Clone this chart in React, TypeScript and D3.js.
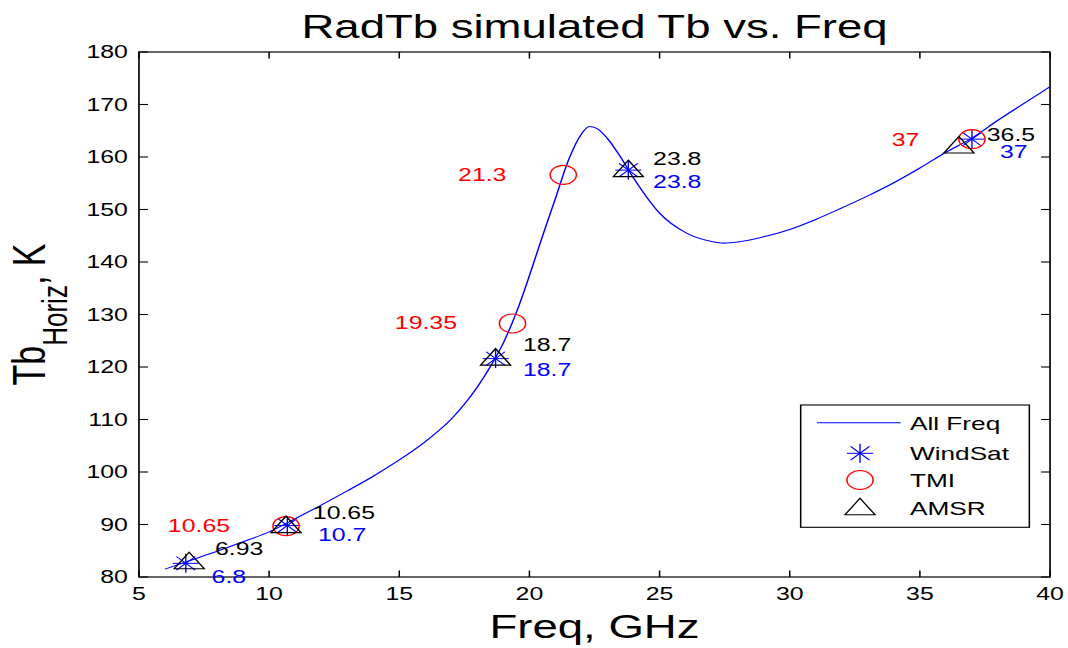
import * as d3 from "d3";

// horizontal stretch of the original figure
const S = 1.38;
const VW = 1068 / S;

const curveFreq = [6, 7, 8, 9, 10, 11, 12, 13, 14, 15, 16, 17, 17.5, 18, 18.5, 19, 19.5, 20, 20.5, 21, 21.5, 22, 22.3, 22.6, 23, 23.5, 24, 24.5, 25, 26, 27, 27.5, 28, 29, 30, 31, 32, 33, 34, 35, 36, 37, 38, 39, 40];
const curveTb = [81.5, 83.2, 84.9, 86.7, 88.6, 91.1, 93.7, 96.4, 99.2, 102.3, 105.8, 110.1, 112.9, 116.2, 120.1, 124.6, 130.4, 137.4, 144.9, 152.1, 159.4, 164.4, 165.8, 165.4, 163.5, 160, 156, 152.4, 149.3, 145.6, 143.9, 143.6, 143.8, 144.8, 146.2, 148.1, 150.3, 152.6, 155.1, 157.9, 160.9, 163.6, 167, 170.2, 173.4];

const windSatFreq = [6.8, 10.7, 18.7, 23.8, 37];
const windSatTb = [82.6, 89.8, 121.6, 157.5, 163.4];
const tmiFreq = [10.65, 19.35, 21.3, 37];
const tmiTb = [89.7, 128.3, 156.6, 163.4];
const amsrFreq = [6.93, 10.65, 18.7, 23.8, 36.5];
const amsrTb = [82.8, 89.7, 121.6, 157.5, 162.0];

const labelText = ["10.65", "6.93", "6.8", "10.65", "10.7", "19.35", "18.7", "18.7", "21.3", "23.8", "23.8", "37", "36.5", "37"];
const labelFreq = [6.11, 7.92, 7.79, 11.68, 11.88, 14.83, 19.75, 19.75, 17.26, 24.75, 24.75, 33.92, 37.57, 38.08];
const labelTb = [89.9, 85.5, 80.06, 92.2, 88.0, 128.4, 124.2, 119.6, 156.7, 159.75, 155.3, 163.4, 164.2, 161.0];
const labelColor = ["#ff0000", "#000", "#0000ff", "#000", "#0000ff", "#ff0000", "#000", "#0000ff", "#ff0000", "#000", "#0000ff", "#ff0000", "#000", "#0000ff"];

const xTicks = [5, 10, 15, 20, 25, 30, 35, 40];
const yTicks = [80, 90, 100, 110, 120, 130, 140, 150, 160, 170, 180];

const legendNames = ["All Freq", "WindSat", "TMI", "AMSR"];

const FONT = "'Liberation Sans', Arial, sans-serif";

function Star({ cx, cy }: { cx: number; cy: number }) {
  const r = 9.5;
  const d = r * 0.72;
  return (
    <g stroke="#0000ff" strokeWidth={1}>
      <line x1={cx - r} y1={cy} x2={cx + r} y2={cy} />
      <line x1={cx} y1={cy - r} x2={cx} y2={cy + r} />
      <line x1={cx - d} y1={cy - d} x2={cx + d} y2={cy + d} />
      <line x1={cx - d} y1={cy + d} x2={cx + d} y2={cy - d} />
    </g>
  );
}

function Circ({ cx, cy }: { cx: number; cy: number }) {
  return <circle cx={cx} cy={cy} r={9.5} fill="none" stroke="#ff0000" strokeWidth={1.1} />;
}

function Tri({ cx, cy }: { cx: number; cy: number }) {
  const p = `${cx},${cy - 10} ${cx + 10.9},${cy + 6.5} ${cx - 10.9},${cy + 6.5}`;
  return <polygon points={p} fill="none" stroke="#000" strokeWidth={1.1} />;
}

export default function App() {
  const x = d3.scaleLinear().domain([5, 40]).range([100.7, 760.9]);
  const y = d3.scaleLinear().domain([80, 180]).range([577, 52]);
  const line = d3
    .line<number>()
    .x((_, i) => x(curveFreq[i]))
    .y((d) => y(d))
    .curve(d3.curveMonotoneX);

  const [x0, x1] = x.range();
  const [y0, y1] = y.range();
  const tk = 6.5;

  const lgX0 = 580.2, lgX1 = 745.9, lgY0 = 405, lgY1 = 527.3;
  const lgRows = [422.7, 453.3, 480, 508.3];

  return (
    <svg
      width={1068}
      height={648}
      viewBox={`0 0 ${VW} 648`}
      preserveAspectRatio="none"
      style={{ position: "absolute", left: 0, top: 0, background: "#fff" }}
      fontFamily={FONT}
    >
      <rect x={0} y={0} width={VW} height={648} fill="#fff" />

      {/* title */}
      <text x={(x0 + x1) / 2} y={38} textAnchor="middle" fontSize={33}>
        RadTb simulated Tb vs. Freq
      </text>

      {/* axes box */}
      <rect x={x0} y={y1} width={x1 - x0} height={y0 - y1} fill="none" stroke="#000" strokeWidth={1.2} />
      {xTicks.map((t) => (
        <g key={"x" + t}>
          <line x1={x(t)} x2={x(t)} y1={y0} y2={y0 - tk} stroke="#000" strokeWidth={1.1} />
          <line x1={x(t)} x2={x(t)} y1={y1} y2={y1 + tk} stroke="#000" strokeWidth={1.1} />
          <text x={x(t)} y={600} textAnchor="middle" fontSize={18}>
            {t}
          </text>
        </g>
      ))}
      {yTicks.map((t) => (
        <g key={"y" + t}>
          <line x1={x0} x2={x0 + tk} y1={y(t)} y2={y(t)} stroke="#000" strokeWidth={1.1} />
          <line x1={x1} x2={x1 - tk} y1={y(t)} y2={y(t)} stroke="#000" strokeWidth={1.1} />
          <text x={x0 - 8} y={y(t)} dy="0.36em" textAnchor="end" fontSize={18}>
            {t}
          </text>
        </g>
      ))}

      {/* axis labels */}
      <text x={(x0 + x1) / 2} y={638} textAnchor="middle" fontSize={33}>
        Freq, GHz
      </text>
      <text transform={`translate(32.6,${(y0 + y1) / 2}) rotate(-90)`} textAnchor="middle" fontSize={34}>
        Tb
        <tspan fontSize={26} dy={15.7}>Horiz</tspan>
        <tspan dy={-15.7}>, K</tspan>
      </text>

      {/* curve */}
      <path d={line(curveTb) ?? ""} fill="none" stroke="#0000ff" strokeWidth={1.1} />

      {windSatFreq.map((f, i) => (
        <Star key={"w" + i} cx={x(f)} cy={y(windSatTb[i])} />
      ))}
      {tmiFreq.map((f, i) => (
        <Circ key={"t" + i} cx={x(f)} cy={y(tmiTb[i])} />
      ))}
      {amsrFreq.map((f, i) => (
        <Tri key={"a" + i} cx={x(f)} cy={y(amsrTb[i])} />
      ))}

      {labelText.map((s, i) => (
        <text key={"l" + i} x={x(labelFreq[i])} y={y(labelTb[i])} dy="0.36em" fontSize={18} fill={labelColor[i]}>
          {s}
        </text>
      ))}

      {/* legend */}
      <rect x={lgX0} y={lgY0} width={lgX1 - lgX0} height={lgY1 - lgY0} fill="#fff" stroke="#000" strokeWidth={1.1} />
      <line x1={592} x2={652.7} y1={lgRows[0]} y2={lgRows[0]} stroke="#0000ff" strokeWidth={1.1} />
      <Star cx={623.2} cy={lgRows[1]} />
      <Circ cx={623.2} cy={lgRows[2]} />
      <Tri cx={623.2} cy={lgRows[3]} />
      {legendNames.map((n, i) => (
        <text key={n} x={659.4} y={lgRows[i]} dy="0.36em" fontSize={19}>
          {n}
        </text>
      ))}
    </svg>
  );
}
